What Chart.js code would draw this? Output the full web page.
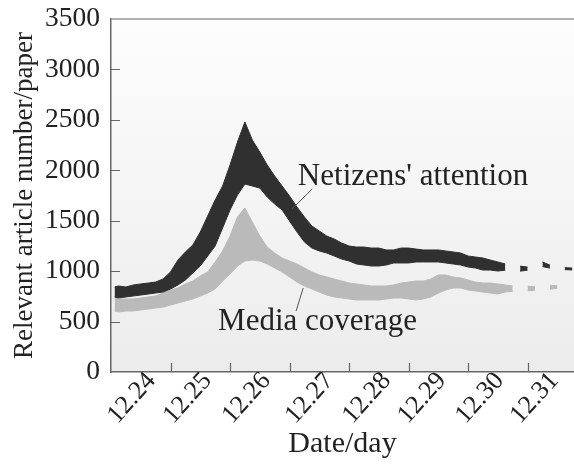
<!DOCTYPE html>
<html>
<head>
<meta charset="utf-8">
<script src="https://cdn.jsdelivr.net/npm/chart.js@4"></script>
<style>
  html, body { margin: 0; padding: 0; background: #fff; }
  #wrap { width: 574px; height: 466px; }
</style>
</head>
<body>
<div id="wrap"><canvas id="chart" width="574" height="466"></canvas></div>
<script>
// ==================== DATA ====================
const dayLabels = ['12.24', '12.25', '12.26', '12.27', '12.28', '12.29', '12.30', '12.31'];
const labelPos = [0.68, 1.62, 2.61, 3.67, 4.63, 5.56, 6.53, 7.45];
const dayTicks = [1, 2, 3, 4, 5, 6, 7];
const yTicks = [500, 1000, 1500, 2000, 2500, 3000];

// time in days since the start of 12.24
const xDays = [0.06, 0.125, 0.25, 0.375, 0.5, 0.625, 0.75, 0.875, 1.0, 1.125, 1.25, 1.375, 1.5, 1.625, 1.75, 1.875,
  2.0, 2.125, 2.25, 2.375, 2.5, 2.625, 2.75, 2.875, 3.0, 3.125, 3.25, 3.375, 3.5, 3.625, 3.75, 3.875,
  4.0, 4.125, 4.25, 4.375, 4.5, 4.625, 4.75, 4.875, 5.0, 5.125, 5.25, 5.375, 5.5, 5.625, 5.75, 5.875,
  6.0, 6.125, 6.25, 6.375, 6.5, 6.625, 6.75, 6.875, 7.0, 7.125, 7.25, 7.375, 7.5, 7.625, 7.75];

// Netizens' attention band (upper / lower edge)
const netTop = [843, 853, 843, 863, 873, 882, 892, 922, 992, 1110, 1190, 1259, 1388, 1547, 1705, 1844,
  2052, 2280, 2479, 2300, 2181, 2052, 1943, 1844, 1745, 1636, 1537, 1448, 1398, 1348, 1319, 1279,
  1249, 1239, 1239, 1229, 1229, 1210, 1210, 1229, 1229, 1219, 1210, 1210, 1210, 1200, 1190, 1180,
  1150, 1140, 1130, 1110, 1091, 1071, null, 1050, 1040, null, 1090, 1060, null, 1035, 1030];
const netBot = [744, 734, 744, 754, 763, 773, 783, 793, 823, 863, 912, 982, 1051, 1150, 1249, 1428,
  1606, 1755, 1864, 1844, 1824, 1735, 1666, 1606, 1497, 1388, 1289, 1229, 1200, 1180, 1150, 1120,
  1101, 1071, 1061, 1051, 1051, 1061, 1081, 1081, 1081, 1091, 1091, 1091, 1091, 1081, 1071, 1061,
  1041, 1031, 1011, 1011, 1001, 1010, null, 1000, 1010, null, 1045, 1030, null, 1015, 1012];

// Media coverage band (upper / lower edge)
const medTop = [734, 724, 724, 724, 734, 744, 754, 783, 813, 833, 873, 902, 952, 992, 1091, 1200,
  1348, 1537, 1626, 1487, 1348, 1239, 1180, 1130, 1101, 1071, 1031, 992, 962, 942, 922, 902,
  882, 873, 863, 853, 853, 853, 863, 882, 892, 902, 902, 922, 962, 962, 942, 932,
  912, 892, 882, 882, 873, 863, 853, null, 850, 845, null, 860, 855, null, 880];
const medBot = [605, 595, 605, 605, 615, 625, 635, 644, 664, 684, 704, 724, 754, 783, 823, 902,
  972, 1051, 1101, 1110, 1101, 1071, 1031, 992, 942, 892, 853, 823, 793, 763, 744, 734,
  724, 714, 714, 714, 714, 724, 734, 734, 724, 714, 724, 744, 783, 813, 833, 833,
  813, 803, 793, 783, 773, 793, 800, null, 805, 810, null, 820, 830, null, 840];

const notes = [
  { text: "Netizens' attention", x: 3.14, y: 1854, from: [3.38, 1814], to: [3.04, 1616] },
  { text: 'Media coverage', x: 1.80, y: 416, from: [3.23, 833], to: [3.11, 605] }
];

// ==================== STYLE ====================
const FONT = "'Liberation Serif', 'Times New Roman', serif";
const TEXT = '#222';
const AXIS = '#666';
const DARK = '#303030';
const LIGHT = '#bababa';

const pts = arr => xDays.map((x, i) => ({ x: x, y: arr[i] }));

function band(arr, color, fill) {
    return {
        data: pts(arr),
        borderColor: color,
        backgroundColor: color,
        borderWidth: 1,
        pointRadius: 0,
        tension: 0,
        spanGaps: false,
        fill: fill
    };
}

// keep the plot box fixed: no extra room for overhanging tick labels
function noOverhang(s) {
    s.paddingTop = 0;
    s.paddingBottom = 0;
    s.paddingLeft = 0;
    s.paddingRight = 0;
}

// ==================== PLUGINS ====================
const plotBackground = {
    id: 'plotBackground',
    beforeDraw(chart) {
        const { ctx, chartArea: a } = chart;
        const g = ctx.createLinearGradient(0, a.top, 0, a.bottom);
        g.addColorStop(0, '#fdfdfd');
        g.addColorStop(1, '#ececec');
        ctx.save();
        ctx.fillStyle = g;
        ctx.fillRect(a.left, a.top, a.right - a.left, a.bottom - a.top);
        ctx.restore();
    }
};

const frameAndTicks = {
    id: 'frameAndTicks',
    afterDraw(chart) {
        const { ctx, chartArea: a, scales } = chart;
        ctx.save();
        ctx.strokeStyle = '#999';
        ctx.lineWidth = 1.5;
        ctx.beginPath();
        ctx.moveTo(a.left, a.top);
        ctx.lineTo(a.right, a.top);
        ctx.stroke();

        ctx.strokeStyle = AXIS;
        ctx.lineWidth = 1.2;
        ctx.beginPath();
        dayTicks.forEach(v => {
            const px = Math.round(scales.x.getPixelForValue(v)) + 0.5;
            ctx.moveTo(px, a.bottom);
            ctx.lineTo(px, a.bottom - 9);
        });
        yTicks.forEach(v => {
            const py = Math.round(scales.y.getPixelForValue(v)) + 0.5;
            ctx.moveTo(a.left, py);
            ctx.lineTo(a.left + 9, py);
        });
        ctx.stroke();
        ctx.restore();
    }
};

const labels = {
    id: 'labels',
    afterDatasetsDraw(chart) {
        const { ctx, scales } = chart;
        ctx.save();
        ctx.strokeStyle = '#555';
        ctx.lineWidth = 1;
        notes.forEach(n => {
            ctx.beginPath();
            ctx.moveTo(scales.x.getPixelForValue(n.from[0]), scales.y.getPixelForValue(n.from[1]));
            ctx.lineTo(scales.x.getPixelForValue(n.to[0]), scales.y.getPixelForValue(n.to[1]));
            ctx.stroke();
        });
        ctx.fillStyle = TEXT;
        ctx.font = '31px ' + FONT;
        ctx.textBaseline = 'alphabetic';
        ctx.textAlign = 'left';
        notes.forEach(n => {
            ctx.fillText(n.text, scales.x.getPixelForValue(n.x), scales.y.getPixelForValue(n.y));
        });
        ctx.restore();
    }
};

// ==================== CHART ====================
new Chart(document.getElementById('chart'), {
    type: 'line',
    data: {
        datasets: [
            band(netTop, DARK, '+1'),
            band(netBot, DARK, false),
            band(medTop, LIGHT, '+1'),
            band(medBot, LIGHT, false)
        ]
    },
    options: {
        responsive: false,
        animation: false,
        devicePixelRatio: 1,
        layout: { padding: { top: 19, right: 0, left: 0, bottom: 0 } },
        plugins: {
            legend: { display: false },
            tooltip: { enabled: false }
        },
        scales: {
            x: {
                type: 'linear',
                min: 0,
                max: 7.78,
                grid: { display: false, drawTicks: false },
                border: { display: true, color: AXIS, width: 1.5 },
                afterBuildTicks: axis => { axis.ticks = labelPos.map(v => ({ value: v })); },
                afterFit: s => { s.height = 94; noOverhang(s); },
                ticks: {
                    autoSkip: false,
                    minRotation: 48,
                    maxRotation: 48,
                    padding: -6,
                    color: TEXT,
                    font: { family: FONT, size: 26 },
                    callback: (v, i) => dayLabels[i]
                },
                title: {
                    display: true,
                    text: 'Date/day',
                    color: TEXT,
                    font: { family: FONT, size: 30 },
                    padding: { top: 0, bottom: 4 }
                }
            },
            y: {
                min: 0,
                max: 3500,
                grid: { display: false, drawTicks: false },
                border: { display: true, color: AXIS, width: 1.5 },
                afterFit: s => { s.width = 111; noOverhang(s); },
                ticks: {
                    stepSize: 500,
                    padding: 11,
                    color: TEXT,
                    font: { family: FONT, size: 27.5 },
                    callback: v => String(v)
                },
                title: {
                    display: true,
                    text: 'Relevant article number/paper',
                    color: TEXT,
                    font: { family: FONT, size: 27 },
                    padding: { top: 9, bottom: 0 }
                }
            }
        }
    },
    plugins: [plotBackground, frameAndTicks, labels]
});
</script>
</body>
</html>
